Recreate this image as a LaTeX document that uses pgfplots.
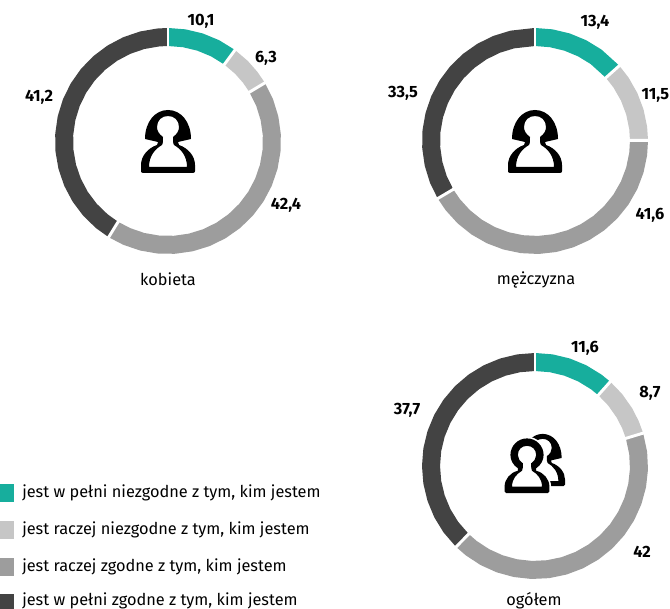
\documentclass[border=0pt]{standalone}
\usepackage{fontspec}
\setmainfont{Fira Sans}
\usepackage{pgfplots}
\usepgfplotslibrary{polar}
\pgfplotsset{compat=1.18}

\definecolor{cA}{HTML}{17AE9D}
\definecolor{cB}{HTML}{C6C6C6}
\definecolor{cC}{HTML}{9D9D9D}
\definecolor{cD}{HTML}{434343}

% one donut: x is the cumulated percentage, y the ring radius
\pgfplotsset{
  donut/.style={
    width=156pt, height=156pt, scale only axis, hide axis, clip=false,
    anchor=center, ymin=0, ymax=1,
    x coord trafo/.code={\pgfmathparse{90-3.6*##1}},
  },
  ring/.style={no markers, line width=13.5pt, line join=round},
  sep/.style={no markers, draw=white, line width=2.2pt},
}

% person icon, origin in the head centre, in px
\newcommand{\personbody}{
  (-19,40) .. controls (-19,29) and (-13,22) .. (-6,18)
  .. controls (-5,17) and (-5,13) .. (-5,10)
  .. controls (-9,7) and (-11,4) .. (-11,0)
  .. controls (-11,-7) and (-6,-11) .. (0,-11)
  .. controls (6,-11) and (11,-7) .. (11,0)
  .. controls (11,4) and (9,7) .. (5,10)
  .. controls (5,13) and (5,17) .. (6,18)
  .. controls (13,22) and (19,29) .. (19,40) -- cycle
}
\newcommand{\frontbody}{
  (-18,38) .. controls (-18,29) and (-13,23) .. (-6,19)
  .. controls (-5,18) and (-5,14) .. (-5,10)
  .. controls (-9,7) and (-11,4) .. (-11,0)
  .. controls (-11,-7) and (-6,-11) .. (0,-11)
  .. controls (6,-11) and (11,-7) .. (11,0)
  .. controls (11,4) and (9,7) .. (5,10)
  .. controls (5,14) and (5,18) .. (6,19)
  .. controls (13,23) and (18,29) .. (18,38) -- cycle
}
\newcommand{\hairperson}{
  (-25,46) .. controls (-26.5,46) and (-27,45) .. (-27,44) -- (-27,38)
  .. controls (-27,29) and (-20,21) .. (-11,18) -- (-10,15) -- (-23,12)
  .. controls (-23,-5) and (-13,-17) .. (0,-17)
  .. controls (13,-17) and (23,-5) .. (23,12)
  -- (10,15) -- (11,18)
  .. controls (20,21) and (27,29) .. (27,38) -- (27,44)
  .. controls (27,45) and (26.5,46) .. (25,46) -- cycle
}
\newcommand{\plainperson}{
  (-25,46) .. controls (-26.5,46) and (-27,45) .. (-27,44) -- (-27,38)
  .. controls (-27,29) and (-20,21) .. (-11,19) -- (-11,16)
  .. controls (-17,12) and (-20,6) .. (-20,0)
  .. controls (-20,-11) and (-11,-20) .. (0,-20)
  .. controls (11,-20) and (20,-11) .. (20,0)
  .. controls (20,6) and (17,12) .. (11,16) -- (11,19)
  .. controls (20,21) and (27,29) .. (27,38) -- (27,44)
  .. controls (27,45) and (26.5,46) .. (25,46) -- cycle
}

\begin{document}
\begin{tikzpicture}[x=0.75pt, y=-0.75pt,
  val/.style={font=\fontsize{12.25}{14}\selectfont\bfseries, inner sep=0pt},
  cat/.style={font=\fontsize{12.25}{14}\selectfont, inner sep=0pt},
  leg/.style={font=\fontsize{12.25}{14}\selectfont, anchor=west, inner sep=0pt}]
\path[use as bounding box] (0,0) rectangle (670,609);

% kobieta
\begin{polaraxis}[donut, at={(126pt,-105.75pt)}]
\addplot[ring, draw=cA] coordinates {(0,1) (2.5,1) (5,1) (7.5,1) (10.1,1)};
\addplot[ring, draw=cB] coordinates {(10.1,1) (12.5,1) (14.5,1) (16.4,1)};
\addplot[ring, draw=cC] coordinates {(16.4,1) (19,1) (21.5,1) (24,1) (26.5,1) (29,1) (31.5,1) (34,1) (36.5,1) (39,1) (41.5,1) (44,1) (46.5,1) (49,1) (51.5,1) (54,1) (56.5,1) (58.8,1)};
\addplot[ring, draw=cD] coordinates {(58.8,1) (61,1) (63.5,1) (66,1) (68.5,1) (71,1) (73.5,1) (76,1) (78.5,1) (81,1) (83.5,1) (86,1) (88.5,1) (91,1) (93.5,1) (96,1) (98.5,1) (100,1)};
\addplot[sep] coordinates {(0,0.8) (0,1.2)};
\addplot[sep] coordinates {(10.1,0.8) (10.1,1.2)};
\addplot[sep] coordinates {(16.4,0.8) (16.4,1.2)};
\addplot[sep] coordinates {(58.8,0.8) (58.8,1.2)};
\end{polaraxis}

% mezczyzna
\begin{polaraxis}[donut, at={(401.25pt,-105.75pt)}]
\addplot[ring, draw=cA] coordinates {(0,1) (2.5,1) (5,1) (7.5,1) (10,1) (13.4,1)};
\addplot[ring, draw=cB] coordinates {(13.4,1) (15.5,1) (18,1) (20.5,1) (23,1) (24.9,1)};
\addplot[ring, draw=cC] coordinates {(24.9,1) (27,1) (29.5,1) (32,1) (34.5,1) (37,1) (39.5,1) (42,1) (44.5,1) (47,1) (49.5,1) (52,1) (54.5,1) (57,1) (59.5,1) (62,1) (64.5,1) (66.5,1)};
\addplot[ring, draw=cD] coordinates {(66.5,1) (69,1) (71.5,1) (74,1) (76.5,1) (79,1) (81.5,1) (84,1) (86.5,1) (89,1) (91.5,1) (94,1) (96.5,1) (100,1)};
\addplot[sep] coordinates {(0,0.8) (0,1.2)};
\addplot[sep] coordinates {(13.4,0.8) (13.4,1.2)};
\addplot[sep] coordinates {(24.9,0.8) (24.9,1.2)};
\addplot[sep] coordinates {(66.5,0.8) (66.5,1.2)};
\end{polaraxis}

% ogolem
\begin{polaraxis}[donut, at={(401.25pt,-349.5pt)}]
\addplot[ring, draw=cA] coordinates {(0,1) (2.5,1) (5,1) (7.5,1) (10,1) (11.6,1)};
\addplot[ring, draw=cB] coordinates {(11.6,1) (14,1) (16.5,1) (18.5,1) (20.3,1)};
\addplot[ring, draw=cC] coordinates {(20.3,1) (23,1) (25.5,1) (28,1) (30.5,1) (33,1) (35.5,1) (38,1) (40.5,1) (43,1) (45.5,1) (48,1) (50.5,1) (53,1) (55.5,1) (58,1) (60.5,1) (62.3,1)};
\addplot[ring, draw=cD] coordinates {(62.3,1) (65,1) (67.5,1) (70,1) (72.5,1) (75,1) (77.5,1) (80,1) (82.5,1) (85,1) (87.5,1) (90,1) (92.5,1) (95,1) (97.5,1) (100,1)};
\addplot[sep] coordinates {(0,0.8) (0,1.2)};
\addplot[sep] coordinates {(11.6,0.8) (11.6,1.2)};
\addplot[sep] coordinates {(20.3,0.8) (20.3,1.2)};
\addplot[sep] coordinates {(62.3,0.8) (62.3,1.2)};
\end{polaraxis}

% value labels
\node[val] at (201,21) {10,1};
\node[val] at (266,58) {6,3};
\node[val] at (286,205) {42,4};
\node[val] at (39,97) {41,2};
\node[val] at (595,22) {13,4};
\node[val, anchor=east] at (669.5,95) {11,5};
\node[val] at (650,215) {41,6};
\node[val] at (403,93) {33,5};
\node[val] at (585,348) {11,6};
\node[val] at (650,393) {8,7};
\node[val] at (642,552) {42};
\node[val] at (407,410) {37,7};

% category labels
\node[cat] at (168,279) {kobieta};
\node[cat] at (536,280) {mężczyzna};
\node[cat] at (534,601) {ogółem};

% icons
\fill[black, even odd rule, shift={(168,127)}] \hairperson \personbody;
\fill[black, even odd rule, shift={(535,127)}] \hairperson \personbody;
\begin{scope}[shift={(542.6,448)}, scale=0.83]
\fill[black, even odd rule] \hairperson \personbody;
\end{scope}
\begin{scope}[shift={(527,455)}, scale=0.83]
\fill[white, draw=white, line width=2.5pt] \plainperson;
\fill[black, even odd rule] \plainperson \frontbody;
\end{scope}

% legend
\fill[cA] (0,484) rectangle (14,502);
\fill[cB] (0,521) rectangle (14,539);
\fill[cC] (0,558) rectangle (14,576);
\fill[cD] (0,594) rectangle (14,612);
\node[leg] at (22,492.5) {jest w pełni niezgodne z tym, kim jestem};
\node[leg] at (22,529.5) {jest raczej niezgodne z tym, kim jestem};
\node[leg] at (22,566.5) {jest raczej zgodne z tym, kim jestem};
\node[leg] at (22,601) {jest w pełni zgodne z tym, kim jestem};
\end{tikzpicture}
\end{document}
